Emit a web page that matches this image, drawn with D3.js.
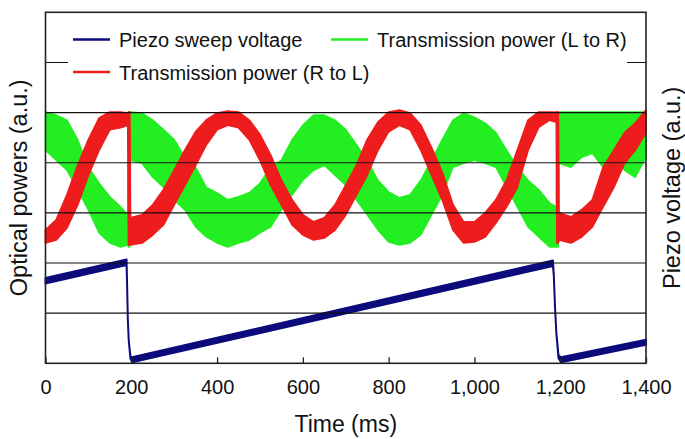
<!DOCTYPE html>
<html>
<head>
<meta charset="utf-8">
<script src="https://cdn.jsdelivr.net/npm/d3@7"></script>
<style>
  html, body { margin: 0; padding: 0; background: #fff; }
  svg text { font-family: "Liberation Sans", Arial, Helvetica, sans-serif; fill: #111; }
</style>
</head>
<body>
<svg id="chart" width="685" height="439"></svg>
<script>
// ---- data ----
const timeMs = [0,25,50,75,100,125,150,175,192,193.5,196.5,198,
  225,250,275,300,325,350,375,400,425,450,475,500,525,550,575,600,625,650,675,700,
  725,750,775,800,825,850,875,900,925,950,975,1000,1025,1050,1075,1100,1125,1150,1175,
  1191,1192.5,1195.5,1197,1225,1250,1275,1300,1325,1350,1375,1400];

// Transmission power (R to L): upper / lower edge of the noisy band (a.u.)
const redHi = [2.66,2.86,3.36,3.95,4.46,4.89,5.01,5.01,4.99,5.01,5.01,2.90,
  2.96,3.16,3.46,3.85,4.25,4.62,4.85,4.99,5.03,5.01,4.85,4.56,4.15,3.65,3.26,2.96,2.82,2.90,3.16,3.55,
  3.95,4.46,4.81,5.01,5.05,4.99,4.75,4.30,3.81,3.16,2.82,2.82,3.00,3.26,3.65,4.25,4.85,5.01,5.01,
  5.01,5.01,5.01,3.00,2.92,3.06,3.26,3.91,4.25,4.60,4.79,5.05];
const redLo = [2.40,2.46,2.70,3.16,3.75,4.25,4.66,4.70,4.75,2.36,2.36,2.36,
  2.40,2.56,2.76,3.16,3.55,3.95,4.36,4.66,4.75,4.70,4.46,4.05,3.55,3.16,2.76,2.56,2.46,2.50,2.66,2.96,
  3.36,3.75,4.25,4.62,4.75,4.66,4.25,3.75,3.26,2.66,2.40,2.42,2.52,2.80,3.12,3.51,4.25,4.71,4.85,
  4.81,2.40,2.40,2.46,2.40,2.52,2.72,3.12,3.51,3.99,4.25,4.60];

// Transmission power (L to R)
const greenHi = [5.01,4.95,4.85,4.46,3.91,3.59,3.32,3.12,2.96,5.01,5.01,5.01,
  4.99,4.85,4.66,4.46,4.11,3.91,3.51,3.40,3.26,3.32,3.40,3.59,3.91,4.05,4.46,4.75,4.95,4.95,4.85,4.66,
  4.36,4.05,3.65,3.42,3.30,3.36,3.65,4.05,4.46,4.85,4.99,4.91,4.79,4.60,4.25,3.91,3.65,3.46,3.20,
  3.12,5.01,5.01,5.01,5.01,5.01,5.01,5.01,5.01,5.01,5.01,5.01];
const greenLo = [4.25,4.05,3.85,3.46,3.06,2.60,2.40,2.32,2.36,2.32,2.32,4.05,
  3.99,3.71,3.51,3.26,3.06,2.72,2.52,2.40,2.32,2.40,2.46,2.60,2.72,3.06,3.36,3.65,3.85,3.95,3.75,3.55,
  3.26,2.96,2.66,2.42,2.36,2.40,2.56,2.96,3.36,3.91,3.99,4.05,3.99,3.91,3.51,3.12,2.72,2.52,2.32,
  2.32,2.32,2.32,3.99,3.91,4.11,4.19,3.91,4.05,3.85,3.71,4.11];

// Piezo sweep voltage (right axis, a.u.)
const piezoTime = [0,189,190,192,194,198,202,1183,1185,1188,1191,1196,1202,1400];
const piezoHi   = [1.70,2.07,1.66,0.86,0.46,0.14,0.12,2.05,1.76,1.10,0.60,0.16,0.12,0.47];
const piezoLo   = [1.59,1.96,1.66,0.86,0.46,0.10,0.02,1.94,1.76,1.10,0.60,0.10,0.02,0.37];

const xTicks = [0,200,400,600,800,1000,1200,1400];
const gridValues = [1,2,3,4,5,6];

const legendItems = [
  {label: "Piezo sweep voltage", color: "#0b0b7c"},
  {label: "Transmission power (L to R)", color: "#22ee22"},
  {label: "Transmission power (R to L)", color: "#ee1c1c"}
];

// ---- layout ----
const svg = d3.select("#chart");
const L = 45.5, R = 646, T = 12.3, B = 363.3;
const x = d3.scaleLinear().domain([0, 1400]).range([L, R]);
const yLeft = d3.scaleLinear().domain([0, 7]).range([B, T]);
const yRight = d3.scaleLinear().domain([0, 7]).range([B, T]);

const plot = svg.append("g");

function band(times, hi, lo, yS) {
  return d3.area()
    .x((d, i) => x(times[i]))
    .y0((d, i) => yS(lo[i]))
    .y1((d, i) => yS(hi[i]))(times);
}

// green first, red on top
plot.append("path")
  .attr("d", band(timeMs, greenHi, greenLo, yLeft))
  .attr("fill", "#22ee22").attr("stroke", "#22ee22")
  .attr("stroke-width", 1.5).attr("stroke-linejoin", "round");
plot.append("path")
  .attr("d", band(timeMs, redHi, redLo, yLeft))
  .attr("fill", "#ee1c1c").attr("stroke", "#ee1c1c")
  .attr("stroke-width", 1.8).attr("stroke-linejoin", "round");
plot.append("path")
  .attr("d", band(piezoTime, piezoHi, piezoLo, yRight))
  .attr("fill", "#0b0b7c").attr("stroke", "#0b0b7c")
  .attr("stroke-width", 2).attr("stroke-linejoin", "round");

// gridlines
svg.append("g").selectAll("line").data(gridValues).join("line")
  .attr("x1", L).attr("x2", R)
  .attr("y1", d => yLeft(d)).attr("y2", d => yLeft(d))
  .attr("stroke", "#111").attr("stroke-width", 1.1);

// legend (white box hides upper gridline)
svg.append("rect").attr("x", 68).attr("y", 20).attr("width", 559).attr("height", 80)
  .attr("fill", "#fff");
const legPos = [{lx: 73, ly: 39.5}, {lx: 331, ly: 39.5}, {lx: 73, ly: 72}];
const leg = svg.append("g").selectAll("g").data(legendItems).join("g")
  .attr("transform", (d, i) => `translate(${legPos[i].lx},${legPos[i].ly})`);
leg.append("line").attr("x1", 0).attr("x2", 37).attr("y1", 0).attr("y2", 0)
  .attr("stroke", d => d.color).attr("stroke-width", 2.5);
leg.append("text").attr("x", 46).attr("y", 7.5)
  .style("font-size", "20px").text(d => d.label);

// frame
svg.append("rect").attr("x", L).attr("y", T).attr("width", R - L).attr("height", B - T)
  .attr("fill", "none").attr("stroke", "#222").attr("stroke-width", 1.6);

// bottom axis with inward ticks
const xAxis = d3.axisBottom(x).tickValues(xTicks).tickFormat(d3.format(","))
  .tickSizeInner(-6).tickSizeOuter(0).tickPadding(17);
const gx = svg.append("g").attr("transform", `translate(0,${B})`).call(xAxis);
gx.select(".domain").remove();
gx.selectAll(".tick line").attr("stroke", "#222").attr("stroke-width", 1.3);
gx.selectAll(".tick text").style("font-size", "20px").attr("fill", "#111")
  .style("font-family", '"Liberation Sans", Arial, sans-serif');

// axis titles
svg.append("text").attr("x", (L + R) / 2).attr("y", 432)
  .attr("text-anchor", "middle").style("font-size", "23px").text("Time (ms)");
svg.append("text").attr("transform", `translate(27,${(T + B) / 2}) rotate(-90)`)
  .attr("text-anchor", "middle").style("font-size", "23.5px").text("Optical powers (a.u.)");
svg.append("text").attr("transform", `translate(680,${(T + B) / 2}) rotate(-90)`)
  .attr("text-anchor", "middle").style("font-size", "23.5px").text("Piezo voltage (a.u.)");
</script>
</body>
</html>
